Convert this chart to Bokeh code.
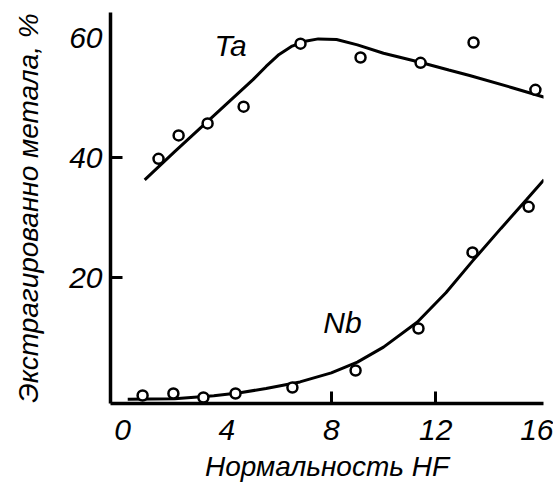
from bokeh.plotting import figure
from bokeh.models import FixedTicker, Range1d, Label
from bokeh.embed import file_html
from bokeh.resources import INLINE

# Data
ta_x = [1.38, 2.15, 3.26, 4.64, 6.82, 9.12, 11.42, 13.45, 15.82]
ta_y = [39.8, 43.7, 45.7, 48.5, 59.0, 56.7, 55.8, 59.2, 51.3]
ta_curve_x = [0.85, 2.0, 3.0, 4.0, 5.0, 5.5, 6.0, 6.5, 7.0, 7.5, 8.2, 9.0, 10.0, 11.4, 12.5, 13.3, 14.9, 16.3]
ta_curve_y = [36.3, 41.0, 45.0, 49.0, 53.0, 55.2, 57.2, 58.6, 59.4, 59.8, 59.7, 58.8, 57.4, 55.9, 54.6, 53.7, 51.7, 49.9]

nb_x = [0.77, 1.95, 3.10, 4.33, 6.51, 8.93, 11.34, 13.41, 15.56]
nb_y = [0.33, 0.67, 0.0, 0.67, 1.67, 4.5, 11.5, 24.2, 31.8]
nb_curve_x = [0.2, 2.0, 3.5, 4.5, 5.5, 6.8, 8.0, 9.0, 10.0, 11.3, 12.4, 13.4, 14.5, 15.5, 16.15]
nb_curve_y = [-0.3, -0.2, 0.3, 0.8, 1.5, 2.6, 4.1, 5.9, 8.4, 12.6, 17.5, 22.7, 28.2, 33.1, 36.3]

x_ticks = [0, 4, 8, 12, 16]
x_tick_marks = [8, 12]
y_ticks = [20, 40, 60]
y_tick_marks = [20, 40]

FONT = "Liberation Sans"

p = figure(width=553, height=490, output_backend="svg", toolbar_location=None,
           x_range=Range1d(-0.46, 16.13), y_range=Range1d(-1.0, 64.2),
           min_border_left=110, min_border_right=10, min_border_top=12, min_border_bottom=87)
p.outline_line_color = None
p.grid.visible = False
p.background_fill_color = "white"
p.border_fill_color = "white"

p.line(ta_curve_x, ta_curve_y, line_color="black", line_width=3)
p.line(nb_curve_x, nb_curve_y, line_color="black", line_width=3)
p.scatter(ta_x, ta_y, size=10, fill_color="white", line_color="black", line_width=2.5)
p.scatter(nb_x, nb_y, size=10, fill_color="white", line_color="black", line_width=2.5)

p.add_layout(Label(x=4.14, y=58.7, text="Ta", text_font=FONT, text_font_style="italic",
                   text_font_size="30px", text_color="black",
                   text_align="center", text_baseline="middle"))
p.add_layout(Label(x=8.43, y=12.5, text="Nb", text_font=FONT, text_font_style="italic",
                   text_font_size="30px", text_color="black",
                   text_align="center", text_baseline="middle"))

for ax in (p.xaxis[0], p.yaxis[0]):
    ax.axis_line_width = 3.5
    ax.axis_line_color = "black"
    ax.major_tick_in = 0
    ax.major_tick_out = 0
    ax.minor_tick_in = 12
    ax.minor_tick_out = 0
    ax.minor_tick_line_width = 3
    ax.minor_tick_line_color = "black"
    ax.major_label_text_font = FONT
    ax.major_label_text_font_style = "italic"
    ax.major_label_text_font_size = "30px"
    ax.major_label_text_color = "black"
    ax.axis_label_text_font = FONT
    ax.axis_label_text_font_style = "italic"
    ax.axis_label_text_font_size = "28px"
    ax.axis_label_text_color = "black"

p.xaxis[0].ticker = FixedTicker(ticks=x_ticks, minor_ticks=x_tick_marks)
p.yaxis[0].ticker = FixedTicker(ticks=y_ticks, minor_ticks=y_tick_marks)
p.xaxis[0].major_label_standoff = 16
p.yaxis[0].major_label_standoff = 8
p.xaxis[0].axis_label = "Нормальность HF"
p.yaxis[0].axis_label = "Экстрагированно метала, %"
p.xaxis[0].axis_label_standoff = 8
p.yaxis[0].axis_label_standoff = 22

open("out.html", "w").write(file_html(p, INLINE))
